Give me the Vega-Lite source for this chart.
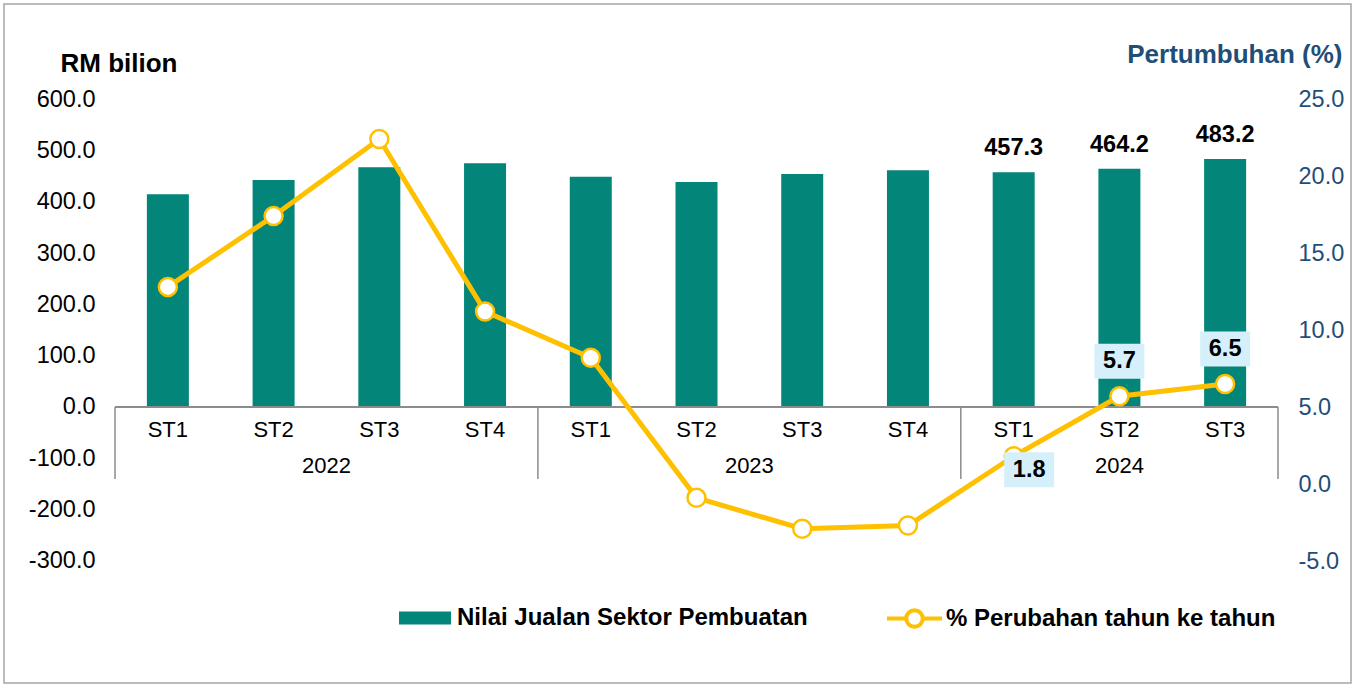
{
  "$schema": "https://vega.github.io/schema/vega-lite/v6.json",
  "width": 1347,
  "height": 679,
  "autosize": {"type": "none"},
  "padding": {"left": 4, "top": 4, "right": 7, "bottom": 1},
  "background": "white",
  "data": {
    "values": [
      {"i": 0, "year": "2022", "q": "ST1", "sales": 414.5, "pct": 12.8},
      {"i": 1, "year": "2022", "q": "ST2", "sales": 442.3, "pct": 17.4},
      {"i": 2, "year": "2022", "q": "ST3", "sales": 467.0, "pct": 22.4},
      {"i": 3, "year": "2022", "q": "ST4", "sales": 474.7, "pct": 11.2},
      {"i": 4, "year": "2023", "q": "ST1", "sales": 448.6, "pct": 8.2},
      {"i": 5, "year": "2023", "q": "ST2", "sales": 438.2, "pct": -0.9},
      {"i": 6, "year": "2023", "q": "ST3", "sales": 454.0, "pct": -2.9},
      {"i": 7, "year": "2023", "q": "ST4", "sales": 461.3, "pct": -2.7},
      {"i": 8, "year": "2024", "q": "ST1", "sales": 457.3, "pct": 1.8},
      {"i": 9, "year": "2024", "q": "ST2", "sales": 464.2, "pct": 5.7},
      {"i": 10, "year": "2024", "q": "ST3", "sales": 483.2, "pct": 6.5}
    ]
  },
  "layer": [
    {
      "layer": [
        {
          "mark": {"type": "bar", "width": 42, "strokeWidth": 0},
          "encoding": {
            "x": {"field": "i", "type": "quantitative", "axis": null,
                  "scale": {"domain": [-1.5499, 11.1905], "nice": false, "zero": false, "padding": 0}},
            "y": {"field": "sales", "type": "quantitative",
                  "scale": {"domain": [-537.67, 785.07], "nice": false, "zero": false},
                  "axis": {
                    "orient": "left", "offset": -111, "values": [-300, -200, -100, 0, 100, 200, 300, 400, 500, 600],
                    "labelExpr": "(datum.value < 0 ? '-' : '') + format(abs(datum.value), '.1f')",
                    "ticks": false, "domain": false, "grid": false, "labelPadding": 20,
                    "labelFontSize": 23.5, "labelColor": "#000000",
                    "title": "RM bilion", "titleAngle": 0, "titleAlign": "left", "titleBaseline": "alphabetic",
                    "titleX": -55, "titleY": 67, "titleFontSize": 26, "titleFontWeight": "bold", "titleColor": "#000000"
                  }},
            "fill": {"datum": "Nilai Jualan Sektor Pembuatan", "type": "nominal",
                     "scale": {"range": ["#04857A"]},
                     "legend": {"orient": "none", "legendX": 395, "legendY": 588, "title": null,
                                "symbolType": "M-1,-0.25L1,-0.25L1,0.25L-1,0.25Z", "symbolSize": 2704,
                                "symbolStrokeWidth": 0, "labelOffset": 6, "labelFontSize": 24,
                                "labelFontWeight": "bold", "labelColor": "#000000", "padding": 0}}
          }
        },
        {
          "transform": [{"filter": "datum.year == '2024'"}],
          "mark": {"type": "text", "baseline": "alphabetic", "dy": -17, "fontSize": 23.5, "fontWeight": "bold", "color": "#000000"},
          "encoding": {
            "x": {"field": "i", "type": "quantitative"},
            "y": {"field": "sales", "type": "quantitative"},
            "text": {"field": "sales", "type": "quantitative", "format": ".1f"}
          }
        },
        {
          "mark": {"type": "text", "baseline": "alphabetic", "dy": 30, "fontSize": 22, "color": "#000000"},
          "encoding": {
            "x": {"field": "i", "type": "quantitative"},
            "y": {"datum": 0},
            "text": {"field": "q"}
          }
        },
        {
          "mark": {"type": "text", "baseline": "alphabetic", "dy": 66, "fontSize": 22, "color": "#000000"},
          "encoding": {
            "x": {"aggregate": "mean", "field": "i", "type": "quantitative"},
            "y": {"datum": 0},
            "text": {"field": "year"}
          }
        },
        {
          "mark": {"type": "rule", "xOffset": -52.86, "y2Offset": 72, "color": "#8C8C8C", "strokeWidth": 1.5},
          "encoding": {
            "x": {"aggregate": "min", "field": "i", "type": "quantitative"},
            "y": {"datum": 0},
            "y2": {"datum": 0},
            "detail": {"field": "year"}
          }
        },
        {
          "mark": {"type": "rule", "xOffset": 52.86, "y2Offset": 72, "color": "#8C8C8C", "strokeWidth": 1.5},
          "encoding": {
            "x": {"aggregate": "max", "field": "i", "type": "quantitative"},
            "y": {"datum": 0},
            "y2": {"datum": 0}
          }
        },
        {
          "mark": {"type": "rule", "xOffset": -52.86, "x2Offset": 52.86, "color": "#8C8C8C", "strokeWidth": 2},
          "encoding": {
            "x": {"aggregate": "min", "field": "i", "type": "quantitative"},
            "x2": {"aggregate": "max", "field": "i"},
            "y": {"datum": 0}
          }
        }
      ]
    },
    {
      "layer": [
        {
          "mark": {"type": "line", "strokeWidth": 5},
          "encoding": {
            "x": {"field": "i", "type": "quantitative"},
            "y": {"field": "pct", "type": "quantitative",
                  "scale": {"domain": [-12.922, 31.169], "nice": false, "zero": false},
                  "axis": {
                    "orient": "right", "offset": -73, "values": [-5, 0, 5, 10, 15, 20, 25],
                    "labelExpr": "(datum.value < 0 ? '-' : '') + format(abs(datum.value), '.1f')",
                    "ticks": false, "domain": false, "grid": false, "labelPadding": 20,
                    "labelFontSize": 23.5, "labelColor": "#1F4E79",
                    "title": "Pertumbuhan (%)", "titleAngle": 0, "titleAlign": "right", "titleBaseline": "alphabetic",
                    "titleX": 64, "titleY": 58, "titleFontSize": 26, "titleFontWeight": "bold", "titleColor": "#1F4E79"
                  }},
            "stroke": {"datum": "% Perubahan tahun ke tahun", "type": "nominal",
                       "scale": {"range": ["#FFC000"]},
                       "legend": {"orient": "none", "legendX": 881, "legendY": 585, "title": null,
                                  "symbolType": "M-1,0L-0.3,0M0.3,0L1,0M0.3,0A0.3,0.3,0,1,1,-0.3,0A0.3,0.3,0,1,1,0.3,0",
                                  "symbolSize": 3025, "symbolStrokeWidth": 4, "symbolFillColor": "#FFFFFF",
                                  "labelOffset": 2, "labelFontSize": 24,
                                  "labelFontWeight": "bold", "labelColor": "#000000", "padding": 0}}
          }
        },
        {
          "mark": {"type": "point", "shape": "circle", "filled": true, "fill": "#FFFFFF", "stroke": "#FFC000", "strokeWidth": 2.5, "size": 324, "opacity": 1},
          "encoding": {
            "x": {"field": "i", "type": "quantitative"},
            "y": {"field": "pct", "type": "quantitative"}
          }
        },
        {
          "transform": [{"filter": "datum.i >= 9"}],
          "mark": {"type": "point", "shape": "M-1,-0.7L1,-0.7L1,0.7L-1,0.7Z", "size": 2500, "filled": true, "fill": "#D5F0FA", "strokeWidth": 0, "opacity": 1, "yOffset": -35},
          "encoding": {
            "x": {"field": "i", "type": "quantitative"},
            "y": {"field": "pct", "type": "quantitative"}
          }
        },
        {
          "transform": [{"filter": "datum.i >= 9"}],
          "mark": {"type": "text", "baseline": "middle", "dy": -35, "fontSize": 23.5, "fontWeight": "bold", "color": "#000000"},
          "encoding": {
            "x": {"field": "i", "type": "quantitative"},
            "y": {"field": "pct", "type": "quantitative"},
            "text": {"field": "pct", "type": "quantitative", "format": ".1f"}
          }
        },
        {
          "transform": [{"filter": "datum.i == 8"}],
          "mark": {"type": "point", "shape": "M-1,-0.7L1,-0.7L1,0.7L-1,0.7Z", "size": 2500, "filled": true, "fill": "#D5F0FA", "strokeWidth": 0, "opacity": 1, "xOffset": 15.5, "yOffset": 13.5},
          "encoding": {
            "x": {"field": "i", "type": "quantitative"},
            "y": {"field": "pct", "type": "quantitative"}
          }
        },
        {
          "transform": [{"filter": "datum.i == 8"}],
          "mark": {"type": "text", "baseline": "middle", "dx": 15.5, "dy": 13.5, "fontSize": 23.5, "fontWeight": "bold", "color": "#000000"},
          "encoding": {
            "x": {"field": "i", "type": "quantitative"},
            "y": {"field": "pct", "type": "quantitative"},
            "text": {"field": "pct", "type": "quantitative", "format": ".1f"}
          }
        }
      ]
    }
  ],
  "resolve": {"scale": {"y": "independent"}},
  "config": {
    "font": "Liberation Sans",
    "view": {"stroke": "#A6A6A6", "strokeWidth": 1.5},
    "axis": {"labelFont": "Liberation Sans", "titleFont": "Liberation Sans"},
    "legend": {"labelFont": "Liberation Sans", "labelLimit": 0},
    "text": {"font": "Liberation Sans"}
  }
}
